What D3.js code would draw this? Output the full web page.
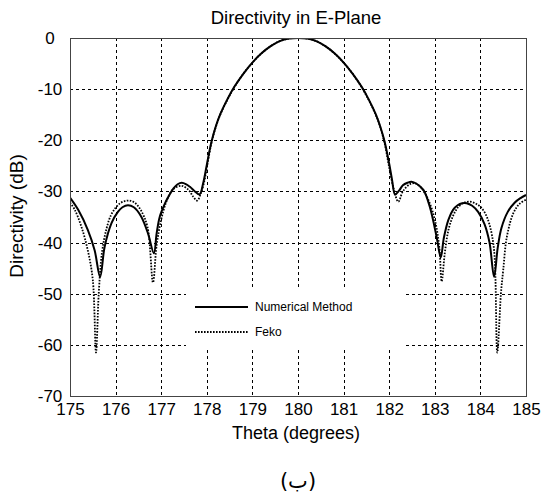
<!DOCTYPE html>
<html>
<head>
<meta charset="utf-8">
<script src="https://cdn.jsdelivr.net/npm/d3@7"></script>
<style>
  body { margin: 0; background: #fff; }
  text { font-family: "Liberation Sans", Arial, sans-serif; fill: #000; }
</style>
</head>
<body>
<div id="graph"></div>
<script>
// values
var numTheta = [175.0,175.18,175.39,175.54,175.66,175.76,175.91,176.05,176.15,176.27,176.4,176.56,176.71,176.84,176.9,176.97,177.08,177.16,177.27,177.36,177.45,177.55,177.63,177.74,177.84,177.92,178.0,178.1,178.2,178.3,178.45,178.6,178.8,179.0,179.2,179.4,179.6,179.8,180.0,
  180.2,180.4,180.6,180.8,181.0,181.2,181.4,181.55,181.7,181.8,181.9,182.0,182.06,182.13,182.22,182.3,182.4,182.49,182.6,182.75,182.89,183.04,183.13,183.2,183.3,183.4,183.5,183.6,183.7,183.82,183.95,184.09,184.2,184.3,184.38,184.46,184.6,184.75,184.88,185.0];
var numDb = [-31.2,-33.6,-37.5,-41.5,-46.7,-40.8,-36.2,-34.0,-33.1,-32.7,-33.1,-34.9,-38.2,-42.1,-38.2,-34.9,-32.4,-31.0,-29.4,-28.6,-28.3,-28.6,-29.1,-30.0,-30.6,-28.4,-24.8,-20.4,-17.2,-14.8,-12.0,-9.6,-7.0,-4.8,-3.0,-1.6,-0.6,-0.1,0,
  -0.1,-0.6,-1.6,-3.0,-4.8,-7.0,-9.6,-12.0,-14.8,-17.2,-20.3,-24.6,-27.6,-30.6,-29.8,-28.8,-28.3,-28.1,-28.5,-29.7,-33.0,-38.9,-42.9,-39.0,-35.5,-33.6,-32.7,-32.3,-32.3,-32.8,-34.0,-36.4,-40.0,-46.7,-41.0,-37.2,-34.0,-32.2,-31.3,-30.7];
var fekoTheta = [175.0,175.1,175.25,175.39,175.5,175.57,175.63,175.7,175.8,175.9,176.0,176.1,176.2,176.31,176.42,176.55,176.7,176.82,176.9,177.0,177.1,177.2,177.3,177.45,177.6,177.7,177.79,177.86,177.93,178.0,178.1,178.2,178.3,178.45,178.6,178.8,179.0,179.2,179.4,179.6,179.8,180.0,
  180.2,180.4,180.6,180.8,181.0,181.2,181.4,181.55,181.7,181.8,181.9,182.0,182.1,182.2,182.3,182.45,182.57,182.7,182.85,183.0,183.1,183.15,183.22,183.3,183.4,183.5,183.62,183.77,183.9,184.0,184.1,184.2,184.3,184.37,184.45,184.5,184.58,184.72,184.85,185.0];
var fekoDb = [-32.2,-33.5,-36.9,-41.5,-47.3,-61.5,-50.0,-42.0,-37.3,-34.6,-33.2,-32.3,-31.9,-31.8,-32.2,-33.6,-37.0,-47.8,-40.5,-35.5,-32.3,-30.3,-29.3,-28.9,-29.7,-31.0,-31.8,-30.6,-28.6,-25.4,-20.6,-17.3,-14.9,-12.1,-9.7,-7.0,-4.8,-3.0,-1.6,-0.6,-0.1,0,
  -0.1,-0.6,-1.6,-3.0,-4.8,-7.0,-9.7,-12.1,-14.9,-17.3,-20.6,-25.3,-29.5,-32.0,-30.0,-28.6,-28.4,-29.3,-31.5,-35.5,-41.0,-47.6,-42.0,-37.5,-34.8,-33.2,-32.3,-32.0,-32.4,-33.0,-34.2,-36.5,-41.5,-61.5,-50.0,-45.4,-38.9,-34.3,-32.5,-31.6];

var xTicks = [175,176,177,178,179,180,181,182,183,184,185];
var yTicks = [0,-10,-20,-30,-40,-50,-60,-70];
var legendNames = ['Numerical Method', 'Feko'];

var width = 544;
var height = 495;
var margin = {left: 70, top: 38, right: 18, bottom: 99};
var plotW = width - margin.left - margin.right;
var plotH = height - margin.top - margin.bottom;

var svg = d3.select('#graph')
  .append('svg')
  .attr('width', width)
  .attr('height', height);

var g = svg.append('g')
  .attr('transform', 'translate(' + margin.left + ',' + margin.top + ')');

var x = d3.scaleLinear().domain([175, 185]).range([0, plotW]);
var y = d3.scaleLinear().domain([-70, 0]).range([plotH, 0]);

// dashed grid
g.selectAll('.vgrid')
  .data(xTicks.slice(1, -1))
  .enter()
  .append('line')
  .attr('x1', function(d){ return Math.round(x(d)) + 0.5; })
  .attr('x2', function(d){ return Math.round(x(d)) + 0.5; })
  .attr('y1', 0)
  .attr('y2', plotH)
  .attr('stroke', '#000')
  .attr('stroke-width', 1)
  .attr('stroke-dasharray', '3,3');

g.selectAll('.hgrid')
  .data(yTicks.slice(1, -1))
  .enter()
  .append('line')
  .attr('y1', function(d){ return Math.round(y(d)) + 0.5; })
  .attr('y2', function(d){ return Math.round(y(d)) + 0.5; })
  .attr('x1', 0)
  .attr('x2', plotW)
  .attr('stroke', '#000')
  .attr('stroke-width', 1)
  .attr('stroke-dasharray', '3,3');

// legend box hides grid behind it
var leg = g.append('g')
  .attr('transform', 'translate(' + (186 - margin.left) + ',' + (289 - margin.top) + ')');
leg.append('rect')
  .attr('width', 218)
  .attr('height', 60)
  .attr('fill', '#fff');

g.append('clipPath')
  .attr('id', 'clip')
  .append('rect')
  .attr('width', plotW)
  .attr('height', plotH);

var line = d3.line()
  .x(function(d){ return x(d[0]); })
  .y(function(d){ return y(d[1]); })
  .curve(d3.curveCatmullRom.alpha(0.5));

var fekoData = d3.zip(fekoTheta, fekoDb);
var numData = d3.zip(numTheta, numDb);

g.append('path')
  .attr('clip-path', 'url(#clip)')
  .attr('d', line(fekoData))
  .attr('fill', 'none')
  .attr('stroke', '#000')
  .attr('stroke-width', 1.8)
  .attr('stroke-dasharray', '1.6,1.4');

g.append('path')
  .attr('clip-path', 'url(#clip)')
  .attr('d', line(numData))
  .attr('fill', 'none')
  .attr('stroke', '#000')
  .attr('stroke-width', 2);

// legend entries
var entries = leg.selectAll('.entry')
  .data(legendNames)
  .enter()
  .append('g')
  .attr('transform', function(d, i){ return 'translate(0,' + (18 + i * 25) + ')'; });
entries.append('line')
  .attr('x1', 9)
  .attr('x2', 62)
  .attr('stroke', '#000')
  .attr('stroke-width', function(d, i){ return i == 0 ? 2 : 1.8; })
  .attr('stroke-dasharray', function(d, i){ return i == 0 ? null : '1.6,1.4'; });
entries.append('text')
  .attr('x', 69)
  .attr('dy', '0.35em')
  .style('font-size', '12px')
  .text(function(d){ return d; });

// frame
g.append('rect')
  .attr('x', 0.5)
  .attr('y', 0.5)
  .attr('width', plotW)
  .attr('height', plotH)
  .attr('fill', 'none')
  .attr('stroke', '#444')
  .attr('stroke-width', 1);

// axes labels (plain hyphen minus, like the picture)
var fmt = function(d){ return String(d); };

var xAxis = g.append('g')
  .attr('transform', 'translate(0,' + plotH + ')')
  .call(d3.axisBottom(x).tickValues(xTicks).tickSize(0).tickPadding(7).tickFormat(fmt));
xAxis.select('.domain').remove();
xAxis.selectAll('text').style('font-size', '17px').attr('fill', '#000');

var yAxis = g.append('g')
  .call(d3.axisLeft(y).tickValues(yTicks).tickSize(0).tickFormat(fmt));
yAxis.select('.domain').remove();
yAxis.selectAll('text')
  .style('font-size', '17px')
  .attr('fill', '#000')
  .attr('text-anchor', 'middle')
  .attr('x', -20);

svg.append('text')
  .attr('x', 296)
  .attr('y', 24)
  .attr('text-anchor', 'middle')
  .style('font-size', '18.5px')
  .text('Directivity in E-Plane');

svg.append('text')
  .attr('x', 296)
  .attr('y', 439)
  .attr('text-anchor', 'middle')
  .style('font-size', '18px')
  .text('Theta (degrees)');

svg.append('text')
  .attr('transform', 'translate(23,216) rotate(-90)')
  .attr('text-anchor', 'middle')
  .style('font-size', '19px')
  .text('Directivity (dB)');

svg.append('text')
  .attr('x', 298)
  .attr('y', 488)
  .attr('text-anchor', 'middle')
  .style('font-family', '"DejaVu Sans", sans-serif')
  .style('font-size', '21px')
  .text('(ب)');
</script>
</body>
</html>
